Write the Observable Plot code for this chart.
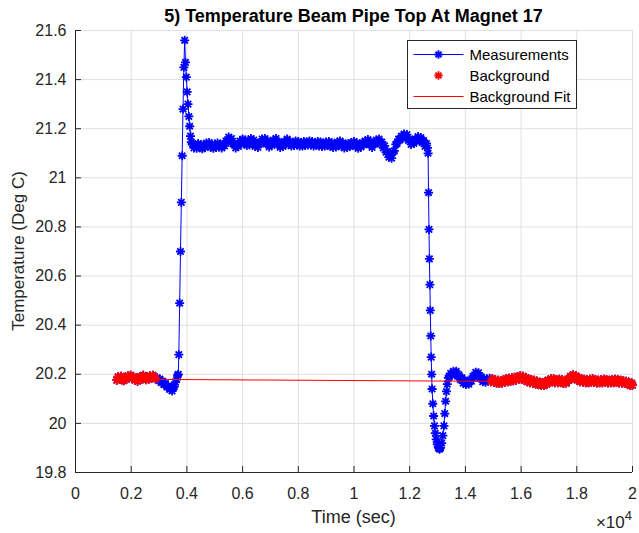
<!DOCTYPE html>
<html><head><meta charset="utf-8">
<script src="https://cdn.jsdelivr.net/npm/d3@7"></script>
<script src="https://cdn.jsdelivr.net/npm/@observablehq/plot@0.6"></script>
<style>
body{margin:0;background:#fff;}
#chart{width:639px;height:533px;}
</style>
</head><body><div id="chart"></div>
<script>
// ---- data (time in seconds, temperature in deg C) ----
const segBefore = [[1480,20.176],[1530,20.190],[1580,20.182],[1630,20.192],[1680,20.178],[1730,20.174],[1780,20.186],[1830,20.180],[1880,20.194],[1930,20.186],[1980,20.196],[2030,20.184],[2080,20.190],[2130,20.176],[2180,20.182],[2230,20.172],[2280,20.184],[2330,20.190],[2380,20.180],[2430,20.196],[2480,20.186],[2530,20.178],[2580,20.188],[2630,20.180],[2680,20.194],[2730,20.184],[2780,20.196],[2830,20.186],[2880,20.182],
  [2930,20.186],[2980,20.174],[3030,20.180],[3080,20.166],[3130,20.172],[3180,20.158],[3230,20.162],[3280,20.148],[3330,20.152],[3380,20.138],[3430,20.144],[3470,20.132],[3510,20.146],[3550,20.150],[3590,20.168],[3630,20.178],[3670,20.196],[3690,20.200]];
const segRise = [[3710,20.28],[3740,20.49],[3770,20.70],[3800,20.90],[3830,21.09],[3860,21.28],[3890,21.45],[3920,21.56],[3950,21.47],[3980,21.41],[4010,21.35],[4040,21.30],[4070,21.25],[4100,21.21],[4130,21.17],[4160,21.145]];
const segPlateau = [[4200,21.138],[4250,21.122],[4300,21.134],[4350,21.120],[4400,21.140],[4450,21.126],[4500,21.136],[4550,21.118],[4600,21.130],[4650,21.124],[4700,21.142],[4750,21.128],[4800,21.144],[4850,21.126],[4900,21.134],[4950,21.120],[5000,21.138],[5050,21.124],[5100,21.142],[5150,21.126],[5200,21.138],[5250,21.122],[5300,21.132],[5350,21.130],[5400,21.150],[5450,21.148],[5500,21.166],[5550,21.150],[5600,21.160],[5650,21.138],[5700,21.140],[5750,21.122],[5800,21.134],[5850,21.128],[5900,21.150],[5950,21.140],[6000,21.158],[6050,21.142],[6100,21.154],[6150,21.132],[6200,21.144],[6250,21.134],[6300,21.160],[6350,21.144],[6400,21.154],[6450,21.128],[6500,21.138],[6550,21.124],[6600,21.142],[6650,21.140],[6700,21.158],[6750,21.144],[6800,21.160],[6850,21.138],[6900,21.150],[6950,21.126],[7000,21.140],[7050,21.132],[7100,21.154],[7150,21.144],[7200,21.160],[7250,21.136],[7300,21.146],[7350,21.124],[7400,21.138],[7450,21.128],[7500,21.148],[7550,21.138],[7600,21.158],[7650,21.136],[7700,21.148],[7750,21.130],[7800,21.144],[7850,21.132],[7900,21.150],[7950,21.134],[8000,21.148],[8050,21.130],[8100,21.144],[8150,21.130],[8200,21.148],[8250,21.132],[8300,21.146],[8350,21.134],[8400,21.150],[8450,21.134],[8500,21.148],[8550,21.130],[8600,21.144],[8650,21.132],[8700,21.148],[8750,21.130],[8800,21.146],[8850,21.128],[8900,21.142],[8950,21.130],[9000,21.146],[9050,21.132],[9100,21.148],[9150,21.128],[9200,21.142],[9250,21.124],[9300,21.138],[9350,21.126],[9400,21.146],[9450,21.132],[9500,21.150],[9550,21.130],[9600,21.142],[9650,21.122],[9700,21.138],[9750,21.124],[9800,21.140],[9850,21.128],[9900,21.144],[9950,21.132],[10000,21.148],[10050,21.130],[10100,21.142],[10150,21.120],[10200,21.136],[10250,21.126],[10300,21.144],[10350,21.134],[10400,21.150],[10450,21.140],[10500,21.156],[10550,21.136],[10600,21.148],[10650,21.124],[10700,21.140],[10750,21.138],[10800,21.154],[10850,21.144],[10900,21.158],[10950,21.138],[11000,21.146],[11050,21.122],[11100,21.130],[11150,21.104],[11200,21.108],[11250,21.084],[11300,21.090],[11350,21.080],[11400,21.104],[11450,21.110],[11500,21.136],[11550,21.140],[11600,21.158],[11650,21.154],[11700,21.170],[11750,21.162],[11800,21.178],[11850,21.166],[11900,21.176],[11950,21.152],[12000,21.158],[12050,21.136],[12100,21.148],[12150,21.140],[12200,21.158],[12250,21.152],[12300,21.168],[12350,21.150],[12400,21.164],[12450,21.144],[12500,21.152],[12550,21.128],[12600,21.140],[12640,21.122]];
const segFall = [[12660,21.10],[12676,20.94],[12692,20.79],[12708,20.67],[12724,20.565],[12740,20.46],[12756,20.356],[12772,20.27],[12788,20.20],[12804,20.14],[12830,20.08],[12860,20.03],[12890,19.99],[12920,19.96],[12950,19.935],[12990,19.915],[13030,19.90],[13070,19.895],[13110,19.90],[13150,19.92],[13190,19.95],[13230,19.99],[13260,20.04],[13290,20.09],[13320,20.13],[13350,20.16],[13390,20.185]];
const segAfter = [[13420,20.192],[13470,20.204],[13520,20.196],[13570,20.212],[13620,20.200],[13670,20.212],[13720,20.192],[13770,20.198],[13820,20.178],[13870,20.186],[13920,20.164],[13970,20.176],[14020,20.158],[14070,20.170],[14120,20.160],[14170,20.176],[14220,20.172],[14270,20.192],[14320,20.190],[14370,20.208],[14420,20.196],[14470,20.206],[14520,20.184],[14570,20.190],[14620,20.170],[14670,20.182],[14720,20.168],[14770,20.182],[14820,20.172],[14870,20.184],
  [14920,20.170],[14970,20.182],[15020,20.168],[15070,20.178],[15120,20.164],[15170,20.176],[15220,20.162],[15270,20.174],[15320,20.164],[15370,20.178],[15420,20.168],[15470,20.182],[15520,20.170],[15570,20.184],[15620,20.172],[15670,20.186],[15720,20.174],[15770,20.188],[15820,20.176],[15870,20.190],[15920,20.180],[15970,20.194],[16020,20.180],[16070,20.192],[16120,20.176],[16170,20.186],[16220,20.170],[16270,20.182],[16320,20.166],[16370,20.178],[16420,20.164],[16470,20.176],[16520,20.160],[16570,20.172],[16620,20.158],[16670,20.168],[16720,20.154],[16770,20.166],[16820,20.154],[16870,20.170],[16920,20.160],[16970,20.176],[17020,20.166],[17070,20.182],[17120,20.170],[17170,20.182],[17220,20.166],[17270,20.178],[17320,20.166],[17370,20.180],[17420,20.168],[17470,20.178],[17520,20.162],[17570,20.174],[17620,20.164],[17670,20.180],[17720,20.176],[17770,20.192],[17820,20.184],[17870,20.198],[17920,20.184],[17970,20.194],[18020,20.176],[18070,20.186],[18120,20.170],[18170,20.182],[18220,20.168],[18270,20.180],[18320,20.166],[18370,20.178],[18420,20.166],[18470,20.180],[18520,20.168],[18570,20.182],[18620,20.168],[18670,20.178],[18720,20.164],[18770,20.176],[18820,20.166],[18870,20.178],[18920,20.166],[18970,20.180],[19020,20.168],[19070,20.178],[19120,20.164],[19170,20.176],[19220,20.166],[19270,20.178],[19320,20.166],[19370,20.180],[19420,20.168],[19470,20.178],[19520,20.164],[19570,20.176],[19620,20.164],[19670,20.174],[19720,20.162],[19770,20.172],[19820,20.160],[19870,20.168],[19920,20.154],[19970,20.164],[20000,20.156]];
const backgroundWindows = [[1400, 2900], [14900, 20000]];
const fitTime = [1480, 20000];
const fitTemp = [20.180, 20.168];
const xTicks = [0,2000,4000,6000,8000,10000,12000,14000,16000,18000,20000];
const xTickLabels = ["0","0.2","0.4","0.6","0.8","1","1.2","1.4","1.6","1.8","2"];
const yTicks = [19.8,20,20.2,20.4,20.6,20.8,21,21.2,21.4,21.6];
const yTickLabels = ["19.8","20","20.2","20.4","20.6","20.8","21","21.2","21.4","21.6"];
const legendLabels = ["Measurements","Background","Background Fit"];
const titleText = "5) Temperature Beam Pipe Top At Magnet 17";

// ---- build tables ----
const measurements = [...segBefore, ...segRise, ...segPlateau, ...segFall, ...segAfter].map(([t, v]) => ({t, v}));
const background = measurements.filter(d => backgroundWindows.some(([a, b]) => d.t >= a && d.t <= b));
const fit = fitTime.map((t, i) => ({t, v: fitTemp[i]}));

const BLUE = "#0000ff", RED = "#ff0000", AX = "#262626", GRID = "#dfdfdf";
const FONT = '"Liberation Sans", Arial, Helvetica, sans-serif';
const W = 639, H = 533, ML = 75, MR = 7, MT = 30, MB = 61;
const PW = W - ML - MR, PH = H - MT - MB;

// MATLAB-style '*' marker: + and x overlaid
const star = {
  draw(ctx, size) {
    const r = Math.sqrt(size / Math.PI), d = r * Math.SQRT1_2;
    ctx.moveTo(-r, 0); ctx.lineTo(r, 0);
    ctx.moveTo(0, -r); ctx.lineTo(0, r);
    ctx.moveTo(-d, -d); ctx.lineTo(d, d);
    ctx.moveTo(-d, d); ctx.lineTo(d, -d);
  }
};
const R = 4.5, SW = 1.8;

const plot = Plot.plot({
  width: W, height: H,
  marginLeft: ML, marginRight: MR, marginTop: MT, marginBottom: MB,
  style: {fontFamily: FONT, fontSize: "16px", color: AX, background: "#fff"},
  x: {domain: [0, 20000]},
  y: {domain: [19.8, 21.6]},
  marks: [
    Plot.gridX(xTicks, {stroke: GRID, strokeOpacity: 1}),
    Plot.gridY(yTicks, {stroke: GRID, strokeOpacity: 1}),
    Plot.line(measurements, {x: "t", y: "v", stroke: BLUE, strokeWidth: 1}),
    Plot.dot(measurements, {x: "t", y: "v", symbol: star, r: R, stroke: BLUE, fill: "none", strokeWidth: SW}),
    Plot.dot(background, {x: "t", y: "v", symbol: star, r: R, stroke: RED, fill: "none", strokeWidth: SW}),
    Plot.line(fit, {x: "t", y: "v", stroke: RED, strokeWidth: 1}),
    Plot.ruleX([0], {stroke: AX}),
    Plot.ruleY([19.8], {stroke: AX}),
    Plot.tickX(xTicks, {x: d => d, insetTop: PH - 6, stroke: AX}),
    Plot.tickY(yTicks, {y: d => d, insetRight: PW - 6, stroke: AX}),
    Plot.axisX(xTicks, {tickSize: 0, tickPadding: 15, tickFormat: (d) => xTickLabels[xTicks.indexOf(d)], label: null, fill: AX}),
    Plot.axisY(yTicks, {tickSize: 0, tickPadding: 9, tickFormat: (d) => yTickLabels[yTicks.indexOf(d)], label: null, fill: AX})
  ]
});
document.getElementById("chart").appendChild(plot);

const svg = d3.select(plot);
// title
svg.append("text").attr("x", ML + PW / 2).attr("y", 22).attr("text-anchor", "middle")
  .attr("font-family", FONT).attr("font-size", 18).attr("font-weight", "bold").attr("fill", "#000").text(titleText);
// axis labels
svg.append("text").attr("x", ML + PW / 2).attr("y", 523).attr("text-anchor", "middle")
  .attr("font-family", FONT).attr("font-size", 18).attr("fill", AX).text("Time (sec)");
svg.append("text").attr("transform", `translate(24,${MT + PH / 2}) rotate(-90)`).attr("text-anchor", "middle")
  .attr("font-family", FONT).attr("font-size", 17).attr("fill", AX).text("Temperature (Deg C)");
// exponent
const ex = svg.append("text").attr("x", 632).attr("y", 528).attr("text-anchor", "end")
  .attr("font-family", FONT).attr("font-size", 17).attr("fill", AX);
ex.append("tspan").text("×10");
ex.append("tspan").attr("dy", -8).attr("font-size", 13).text("4");

// legend
const lg = svg.append("g").attr("transform", "translate(407.5,40.5)");
lg.append("rect").attr("width", 169).attr("height", 68).attr("fill", "#fff").attr("stroke", AX);
const starPath = d3.symbol(star, Math.PI * 4.2 * 4.2)();
const rows = [14, 35, 56];
lg.append("line").attr("x1", 6).attr("x2", 56).attr("y1", rows[0]).attr("y2", rows[0]).attr("stroke", BLUE);
lg.append("path").attr("d", starPath).attr("transform", `translate(31,${rows[0]})`).attr("stroke", BLUE).attr("stroke-width", SW).attr("fill", "none");
lg.append("path").attr("d", starPath).attr("transform", `translate(31,${rows[1]})`).attr("stroke", RED).attr("stroke-width", SW).attr("fill", "none");
lg.append("line").attr("x1", 6).attr("x2", 56).attr("y1", rows[2]).attr("y2", rows[2]).attr("stroke", RED);
legendLabels.forEach((s, i) => {
  lg.append("text").attr("x", 62).attr("y", rows[i]).attr("dy", "0.35em").attr("text-anchor", "start")
    .attr("font-family", FONT).attr("font-size", 15).attr("fill", "#000").text(s);
});
</script>
</body></html>
